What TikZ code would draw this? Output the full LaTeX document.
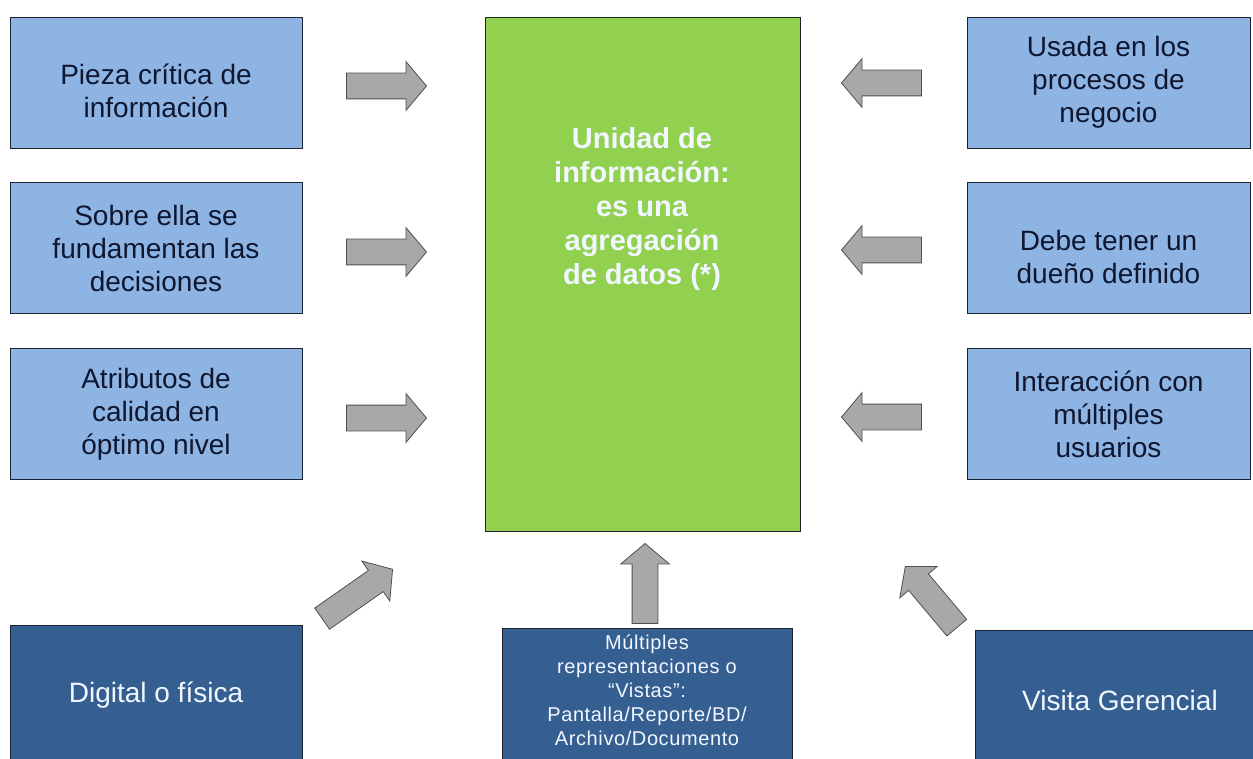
\documentclass[tikz,border=0pt]{standalone}
\usepackage{fontspec}
\setmainfont{Liberation Sans}
\usetikzlibrary{shapes.arrows}
\definecolor{celeste}{HTML}{8EB4E3}
\definecolor{verde}{HTML}{92D050}
\definecolor{azul}{HTML}{355F91}
\definecolor{gris}{HTML}{A8A8A8}
\definecolor{borde}{HTML}{1C2433}
\definecolor{tinta}{HTML}{0E1630}
\definecolor{blanco}{HTML}{F2F7FF}
% texto de dos lineas, un poco mas abajo
\newcommand\bajar[1]{\raisebox{-12pt}[\height][\depth]{\begin{tabular}{@{}c@{}}#1\end{tabular}}}
\tikzset{
  blk/.style={draw=borde,rectangle,line width=0.8pt,align=center,inner sep=0pt},
  claroblk/.style={blk,fill=celeste,text=tinta,minimum height=131pt,font=\fontsize{28}{33}\selectfont},
  izqblk/.style={claroblk,minimum width=292pt},
  derblk/.style={claroblk,minimum width=283pt},
  oscblk/.style={blk,fill=azul,text=blanco,minimum height=140pt},
  verdeblk/.style={blk,fill=verde},
  lbl/.style={align=center,text=blanco},
  flecha/.style={single arrow,draw=borde!80,fill=gris,line width=0.8pt,inner sep=0pt,
    text height=12.5pt,text depth=12.5pt,single arrow head extend=11.5pt,
    single arrow tip angle=100,minimum height=80pt,anchor=tip}
}
\begin{document}
\begin{tikzpicture}[x=1pt,y=-1pt]
  \useasboundingbox (0,0) rectangle (1253,759);
  % cajas de la izquierda
  \node[izqblk] (pieza) at (156,82.5) {\bajar{Pieza cr\'itica de\\informaci\'on}};
  \node[izqblk] (sobre) at (156,248) {Sobre ella se\\fundamentan las\\decisiones};
  \node[izqblk] (atrib) at (156,414) {Atributos de\\calidad en\\\'optimo nivel};
  % cajas de la derecha
  \node[derblk] (usada) at (1108.5,82.5) {Usada en los\\procesos de\\negocio};
  \node[derblk] (duenio) at (1108.5,248) {\bajar{Debe tener un\\due\~no definido}};
  \node[derblk] (inter) at (1108.5,414) {Interacci\'on con\\m\'ultiples\\usuarios};
  % unidad central
  \node[verdeblk,minimum width=315pt,minimum height=514pt] (unidad) at (642.5,274) {};
  \node[lbl,font=\bfseries\fontsize{29}{34}\selectfont] (unidadtxt) at (642,209)
    {Unidad de\\informaci\'on:\\es una\\agregaci\'on\\de datos (*)};
  % cajas de abajo
  \node[oscblk,minimum width=292pt,font=\fontsize{28}{33}\selectfont] (digital) at (156,695) {Digital o f\'isica};
  \node[oscblk,minimum width=290pt] (vistas) at (647,698) {};
  \node[lbl,anchor=north,font=\addfontfeature{LetterSpace=3}\fontsize{20}{24}\selectfont] (vistastxt)
    at (647,631) {M\'ultiples\\representaciones o\\``Vistas'':\\Pantalla/Reporte/BD/\\Archivo/Documento};
  \node[oscblk,minimum width=290pt,font=\fontsize{28}{33}\selectfont] (visita) at (1120,700) {Visita Gerencial};
  % flechas
  \node[flecha] (f1) at (427,86) {};
  \node[flecha] (f2) at (427,252) {};
  \node[flecha] (f3) at (427,418) {};
  \node[flecha,rotate=180] (f4) at (841,83) {};
  \node[flecha,rotate=180] (f5) at (841,250) {};
  \node[flecha,rotate=180] (f6) at (841,417) {};
  \node[flecha,rotate=90] (f7) at (645,543) {};
  \node[flecha,rotate=35,minimum height=86pt] (f8) at (393,569) {};
  \node[flecha,rotate=130] (f9) at (905,566) {};
\end{tikzpicture}
\end{document}
